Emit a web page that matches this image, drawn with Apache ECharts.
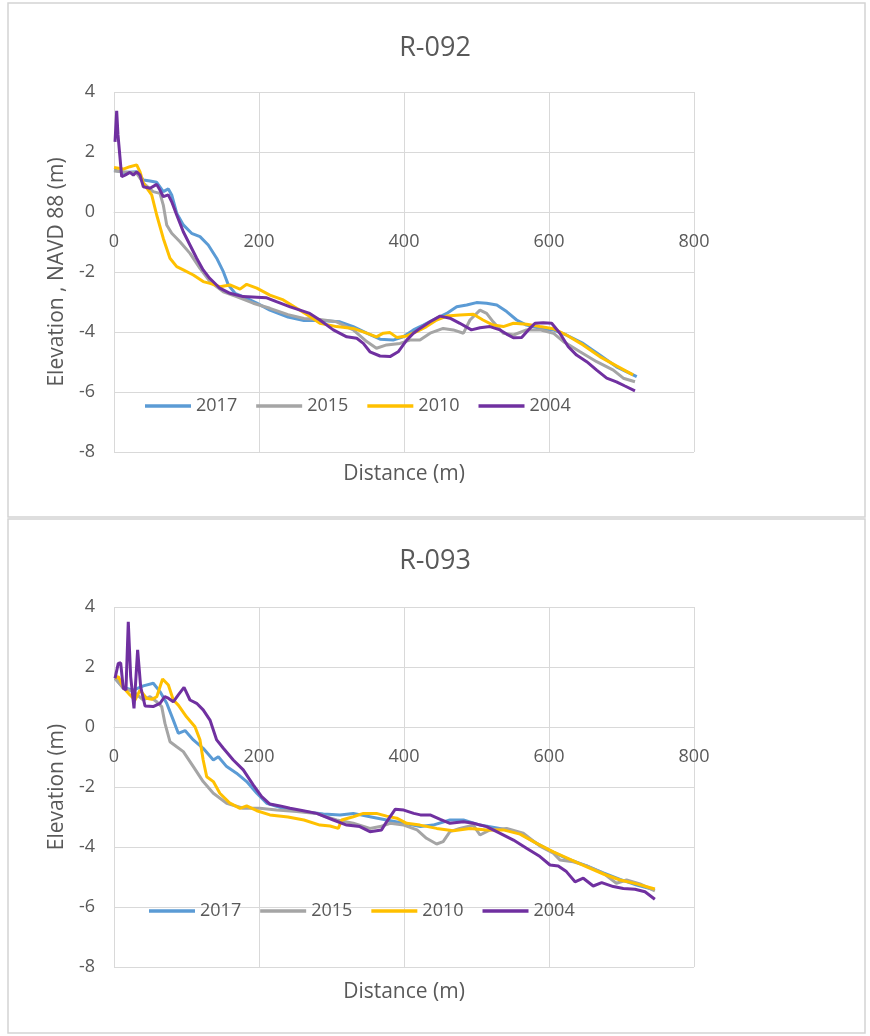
<!DOCTYPE html>
<html>
<head>
<meta charset="utf-8">
<script src="https://cdn.jsdelivr.net/npm/echarts@6/dist/echarts.min.js"></script>
<style>
  html, body { margin: 0; padding: 0; background: #ffffff; }
  #chart { width: 870px; height: 1036px; }
</style>
</head>
<body>
<div id="chart"></div>
<script>
// ---------------- Data ----------------
var seriesNames = ['2017', '2015', '2010', '2004'];
var xTicks = { min: 0, max: 800, interval: 200 };
var yTicks = { min: -8, max: 4, interval: 2 };
var chartTitles = ['R-092', 'R-093'];
var yAxisNames = ['Elevation , NAVD 88 (m)', 'Elevation (m)'];
var xAxisName = 'Distance (m)';

// R-092 profiles: [distance (m), elevation (m)]
var r092_2017 = [[0,1.40],[12.8,1.32],[31,1.34],[40.5,1.07],[49.7,1.03],[58.9,0.99],[68,0.68],[75,0.77],[79.6,0.57],[86.5,-0.04],[95.6,-0.43],[107,-0.71],[118.6,-0.82],[130,-1.10],[141.6,-1.54],[150.8,-1.99],[157.7,-2.43],[166.9,-2.71],[178,-2.82],[197,-3.04],[215,-3.27],[240,-3.50],[262,-3.62],[284,-3.62],[311.7,-3.66],[330,-3.82],[348.6,-4.04],[367,-4.24],[385,-4.27],[399,-4.16],[413,-3.93],[426.6,-3.77],[440,-3.60],[458.9,-3.38],[472.7,-3.16],[486.5,-3.10],[500,-3.02],[514,-3.04],[528,-3.10],[541.6,-3.32],[555.4,-3.60],[569,-3.77],[587.6,-3.88],[606,-3.93],[624,-4.10],[647,-4.38],[670,-4.77],[693,-5.16],[721,-5.49]];
var r092_2015 = [[0,1.37],[31,1.30],[40.5,0.96],[54,0.68],[63.4,0.62],[68,0.23],[72.7,-0.43],[79.6,-0.71],[91,-0.99],[104.8,-1.38],[118.6,-1.88],[132.4,-2.32],[150.8,-2.66],[169,-2.82],[192,-3.04],[215,-3.21],[240,-3.42],[262,-3.55],[284,-3.58],[307,-3.66],[330,-3.93],[348.6,-4.32],[362,-4.54],[376,-4.43],[394.5,-4.38],[408,-4.27],[422,-4.27],[436,-4.04],[454,-3.88],[468,-3.93],[482,-4.04],[491,-3.60],[504.8,-3.27],[514,-3.38],[523,-3.66],[537,-4.04],[551,-4.10],[569,-3.93],[587.6,-3.93],[606,-4.04],[620,-4.32],[642.8,-4.66],[665.8,-4.99],[688.7,-5.27],[702.5,-5.54],[718.6,-5.66]];
var r092_2010 = [[0,1.48],[12.8,1.43],[22,1.51],[31.3,1.57],[35.9,1.34],[40.5,0.96],[47.3,0.73],[52,0.57],[58.9,-0.10],[68,-0.88],[77.2,-1.54],[86.5,-1.82],[95.6,-1.93],[109.4,-2.10],[123,-2.32],[132.4,-2.38],[146,-2.49],[160,-2.43],[173.8,-2.57],[183,-2.41],[197,-2.54],[215,-2.77],[233.5,-2.93],[252,-3.21],[268,-3.45],[284,-3.71],[307,-3.82],[330,-3.88],[348.6,-4.04],[362,-4.16],[371.5,-4.04],[380.7,-4.02],[390,-4.18],[403.7,-4.13],[417.5,-3.99],[431,-3.82],[445,-3.60],[459,-3.47],[477,-3.43],[495.6,-3.41],[509,-3.60],[523,-3.77],[537,-3.82],[551,-3.71],[569,-3.74],[587.6,-3.82],[606,-3.89],[624,-4.10],[647,-4.43],[670,-4.82],[693,-5.13],[716,-5.43]];
var r092_2004 = [[1.4,2.34],[3.7,3.37],[5.5,2.57],[10.6,1.18],[15.2,1.23],[22,1.32],[26.7,1.23],[31.3,1.34],[35.9,1.23],[40.5,0.84],[49.7,0.79],[58.9,0.92],[63.4,0.73],[68,0.51],[74.9,0.57],[79.6,0.34],[86.5,-0.10],[95.6,-0.66],[104.8,-1.10],[114,-1.54],[123,-1.93],[132,-2.21],[146,-2.54],[160,-2.71],[178,-2.82],[197,-2.84],[210.6,-2.86],[224,-2.99],[243,-3.16],[256.6,-3.27],[270,-3.38],[284,-3.60],[302.5,-3.93],[321,-4.16],[334.8,-4.21],[343.9,-4.38],[353,-4.66],[366.9,-4.80],[380.7,-4.82],[392,-4.66],[403.7,-4.27],[413,-4.04],[422,-3.88],[435.9,-3.66],[449.7,-3.47],[463.4,-3.54],[477,-3.71],[493,-3.93],[504.8,-3.86],[518.6,-3.82],[532.4,-3.93],[541.6,-4.07],[550.8,-4.19],[562.3,-4.18],[571.5,-3.93],[580.7,-3.71],[592,-3.69],[603.7,-3.71],[615,-4.04],[626.6,-4.49],[638,-4.77],[652,-4.99],[665.8,-5.27],[679.6,-5.54],[693,-5.66],[704.8,-5.80],[718.6,-5.96]];

// R-093 profiles
var r093_2017 = [[1.4,1.62],[12.8,1.32],[26.6,1.23],[40.5,1.37],[54.2,1.46],[63.4,1.18],[72.7,0.79],[81.8,0.23],[88.7,-0.21],[98,-0.12],[109.4,-0.43],[123,-0.71],[137,-1.10],[143.9,-0.99],[155.4,-1.32],[169,-1.54],[183,-1.82],[197,-2.21],[210.6,-2.54],[233.5,-2.71],[261,-2.82],[288.7,-2.90],[311.7,-2.93],[330,-2.88],[353,-2.99],[376,-3.10],[399.7,-3.21],[422.6,-3.32],[440,-3.27],[463.4,-3.10],[482,-3.10],[504.8,-3.27],[532,-3.38],[560,-3.54],[583,-3.88],[601.4,-4.12],[624,-4.38],[652,-4.63],[675,-4.86],[698,-5.08],[721,-5.27],[746,-5.43]];
var r093_2015 = [[1.4,1.62],[12.8,1.29],[26.6,1.18],[40.5,0.90],[49.7,1.01],[58.9,0.84],[65.8,0.68],[70.3,0.12],[77.2,-0.49],[86.5,-0.66],[95.6,-0.82],[109.4,-1.32],[123,-1.82],[137,-2.21],[155.4,-2.54],[178,-2.71],[201,-2.71],[224.4,-2.77],[252,-2.82],[279.6,-2.88],[290,-2.97],[307,-3.10],[330,-3.21],[353,-3.38],[367,-3.32],[381,-3.21],[399.7,-3.27],[418,-3.43],[431,-3.71],[445,-3.90],[454,-3.82],[463.4,-3.49],[477,-3.38],[495.6,-3.27],[504.8,-3.60],[518.6,-3.43],[541.6,-3.38],[564.5,-3.54],[587.6,-3.97],[606,-4.21],[615,-4.43],[633.5,-4.49],[652,-4.63],[675,-4.88],[693,-5.21],[707,-5.10],[725.5,-5.23],[746,-5.46]];
var r093_2010 = [[1.4,1.62],[5.9,1.68],[12.8,1.32],[22,1.07],[29,0.90],[35.9,1.23],[45,0.96],[52,0.92],[59,1.01],[67,1.60],[75,1.40],[81.8,0.90],[88.7,0.73],[100,0.34],[111.7,0.01],[118.6,-0.43],[123,-1.10],[127.9,-1.66],[137,-1.82],[146,-2.21],[160,-2.54],[173.8,-2.71],[183,-2.63],[197,-2.79],[215,-2.93],[240,-3.00],[262,-3.10],[284,-3.27],[298,-3.30],[309.4,-3.38],[314,-3.10],[330,-2.99],[344,-2.88],[362,-2.88],[376,-2.97],[390,-3.04],[403.7,-3.21],[422,-3.27],[445,-3.38],[468,-3.46],[491,-3.38],[514,-3.43],[537,-3.43],[560,-3.57],[583,-3.88],[606,-4.16],[629,-4.41],[652,-4.66],[675,-4.90],[698,-5.10],[721,-5.23],[746,-5.40]];
var r093_2004 = [[1.4,1.62],[5.9,2.12],[9.2,2.14],[12.8,1.29],[16.5,1.23],[19.7,3.51],[23,1.68],[27.6,0.62],[32.6,2.57],[36.8,1.34],[42.8,0.70],[54,0.68],[63.4,0.79],[70,1.01],[74.9,0.96],[81.8,0.84],[88.7,1.07],[96.6,1.32],[104.8,0.90],[114,0.79],[123,0.57],[132.4,0.23],[141.6,-0.43],[150.8,-0.71],[164.5,-1.10],[178.3,-1.43],[192,-1.93],[203.7,-2.32],[215,-2.57],[229,-2.63],[242.8,-2.71],[261,-2.79],[279.6,-2.88],[302.5,-3.10],[321,-3.27],[339,-3.32],[353,-3.49],[369,-3.43],[376,-3.16],[388,-2.74],[399.7,-2.77],[413.5,-2.88],[422.6,-2.93],[436,-2.93],[450,-3.08],[463.4,-3.21],[482,-3.16],[495.6,-3.21],[514,-3.32],[532,-3.54],[551,-3.77],[569,-4.04],[587.6,-4.32],[601.4,-4.60],[612.8,-4.63],[624,-4.82],[635.9,-5.16],[647.3,-5.04],[661,-5.30],[672.7,-5.19],[688.7,-5.32],[702.5,-5.38],[718.6,-5.41],[732.4,-5.49],[746,-5.74]];

var chartData = [
  [r092_2017, r092_2015, r092_2010, r092_2004],
  [r093_2017, r093_2015, r093_2010, r093_2004]
];

// ---------------- Style ----------------
var colors = ['#5B9BD5', '#A5A5A5', '#FFC000', '#7030A0'];
var FONT = '"Open Sans", "DejaVu Sans", sans-serif';
var TEXT = '#595959';
var GRIDC = '#D9D9D9';

var GRID_H = 360;
var gridTops = [92, 607];
var titleTops = [30, 543];
var legendTops = [392, 897];
var legendLefts = [140, 144];
var nameGaps = [252, 255];
// x axis sits on the zero line: shift it up from the grid bottom by the zero position
var zeroOffset = -GRID_H * (0 - yTicks.min) / (yTicks.max - yTicks.min);

var option = {
  animation: false,
  backgroundColor: '#ffffff',
  color: colors,
  textStyle: { fontFamily: FONT },
  title: [], grid: [], xAxis: [], yAxis: [], legend: [], series: [],
  graphic: [
    { type: 'rect', shape: { x: 8, y: 3, width: 857, height: 514 }, style: { fill: 'none', stroke: '#D4D4D4', lineWidth: 1.5 }, silent: true },
    { type: 'rect', shape: { x: 8, y: 519, width: 857, height: 514 }, style: { fill: 'none', stroke: '#D4D4D4', lineWidth: 1.5 }, silent: true }
  ]
};

for (var c = 0; c < 2; c++) {
  option.title.push({
    text: chartTitles[c], left: 'center', top: titleTops[c],
    textStyle: { fontFamily: FONT, fontSize: 27, fontWeight: 'normal', color: TEXT }
  });
  option.grid.push({ left: 114, top: gridTops[c], width: 580, height: GRID_H, containLabel: false, outerBoundsMode: 'none' });
  option.xAxis.push({
    type: 'value', gridIndex: c, min: xTicks.min, max: xTicks.max, interval: xTicks.interval,
    position: 'bottom', offset: zeroOffset,
    name: xAxisName, nameLocation: 'middle', nameGap: nameGaps[c],
    nameTextStyle: { fontFamily: FONT, fontSize: 21, color: TEXT },
    axisLine: { show: true, onZero: false, lineStyle: { color: GRIDC, width: 1 } },
    axisTick: { show: false },
    axisLabel: { fontFamily: FONT, fontSize: 18, color: TEXT, margin: 21 },
    splitLine: { show: true, lineStyle: { color: GRIDC, width: 1 } }
  });
  option.yAxis.push({
    type: 'value', gridIndex: c, min: yTicks.min, max: yTicks.max, interval: yTicks.interval,
    name: yAxisNames[c], nameLocation: 'middle', nameGap: 46,
    nameTextStyle: { fontFamily: FONT, fontSize: 21, color: TEXT },
    axisLine: { show: false }, axisTick: { show: false },
    axisLabel: { fontFamily: FONT, fontSize: 18, color: TEXT, margin: 19 },
    splitLine: { show: true, lineStyle: { color: GRIDC, width: 1 } }
  });
  option.legend.push({
    data: seriesNames, left: legendLefts[c], top: legendTops[c],
    icon: 'rect', itemWidth: 46, itemHeight: 3.5, itemGap: 19, selectedMode: false,
    textStyle: { fontFamily: FONT, fontSize: 18, color: TEXT }
  });
  for (var s = 0; s < seriesNames.length; s++) {
    option.series.push({
      name: seriesNames[s], type: 'line', xAxisIndex: c, yAxisIndex: c,
      data: chartData[c][s], symbol: 'none', showSymbol: false,
      lineStyle: { width: 3, color: colors[s] }, itemStyle: { color: colors[s] },
      z: 2 + s
    });
  }
}

var chart = echarts.init(document.getElementById('chart'), null, { renderer: 'canvas' });
chart.setOption(option);
</script>
</body>
</html>
